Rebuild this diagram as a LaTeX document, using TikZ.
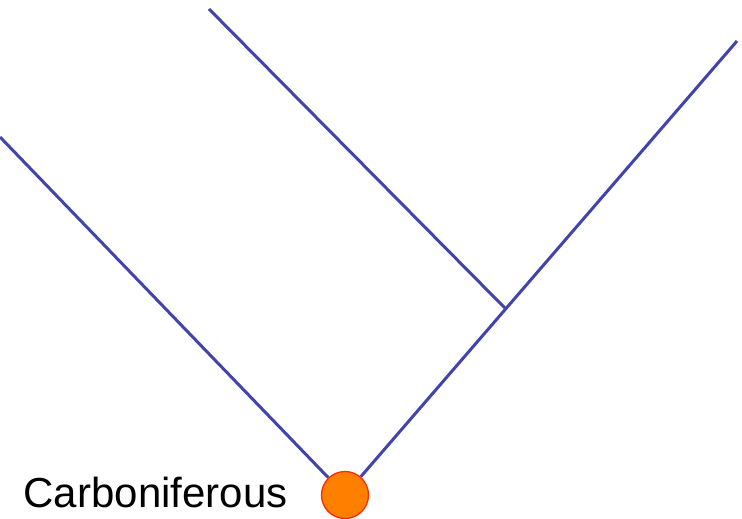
\documentclass[tikz,border=0pt]{standalone}
\usepackage{fontspec}
\setmainfont{Liberation Sans}
\usetikzlibrary{calc, backgrounds}
\definecolor{cline}{HTML}{4343AE}
\definecolor{corange}{HTML}{FF8000}
\definecolor{cred}{HTML}{FF2A00}
\tikzset{
  every picture/.style={x=1pt, y=-1pt},
  branch/.style={draw=cline, line width=3pt},
  rootdot/.style={circle, draw=cred, fill=corange, line width=1.3pt, minimum size=47pt, inner sep=0pt},
  period/.style={font=\fontsize{42}{44}\selectfont, text=black},
}

\begin{document}
\begin{tikzpicture}
  \useasboundingbox (0,0) rectangle (742,519);
  % tips of the tree
  \coordinate (leafA) at (0,137);
  \coordinate (leafB) at (209,9);
  \coordinate (leafC) at (737,41);
  % root and its label
  \node[rootdot] (root) at (345,495) {};
  \coordinate (split) at ($(root)!0.41!(leafC)$);
  \node[period, anchor=east] (era) at (291,492) {Carboniferous};
  % branches, behind the root
  \begin{scope}[on background layer]
  \draw[branch] (root) -- (leafA);
  \draw[branch] (root) -- (leafC);
  \draw[branch] (split) -- (leafB);
  \end{scope}
\end{tikzpicture}
\end{document}
